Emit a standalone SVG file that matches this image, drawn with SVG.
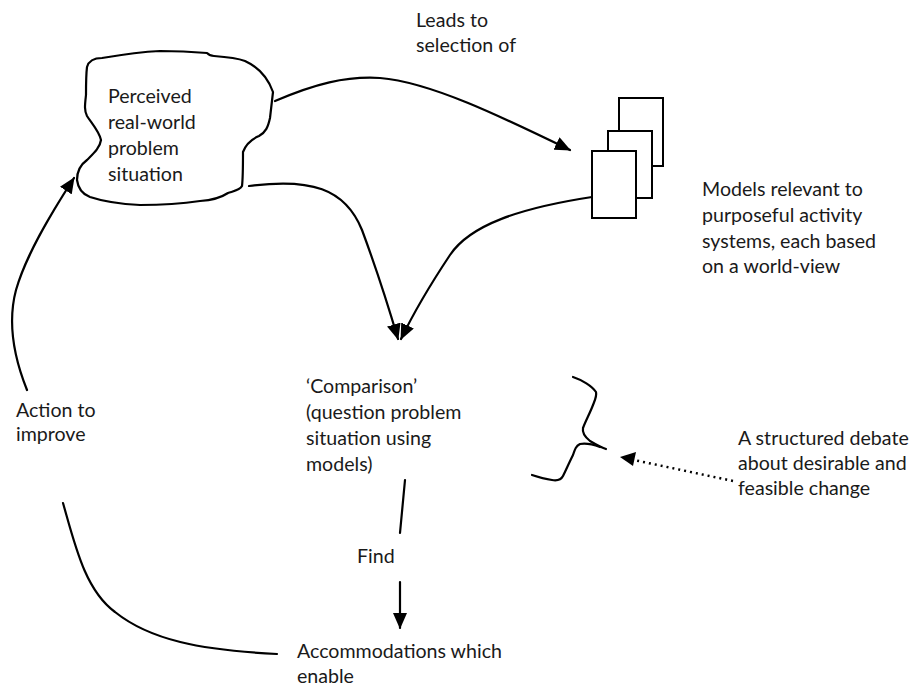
<svg xmlns="http://www.w3.org/2000/svg" width="912" height="687" viewBox="0 0 912 687">
<style>
text { font-family: Lato, "Open Sans", "Liberation Sans", sans-serif; font-size: 19.6px; fill: #1a1a1a; }
.ln { fill: none; stroke: #000; stroke-width: 2.2; stroke-linecap: round; stroke-linejoin: round; }
.box { fill: #fff; stroke: #000; stroke-width: 2; }
.dot { fill: none; stroke: #000; stroke-width: 2.5; stroke-dasharray: 2 4; }
</style>
<defs>
<marker id="ah" markerUnits="userSpaceOnUse" markerWidth="16" markerHeight="14" refX="15" refY="7" orient="auto">
<path d="M0,0 L16,7 L0,14 z" fill="#000"/>
</marker>
</defs>
<rect width="912" height="687" fill="#fff"/>
<g id="problem-situation">
<path class="ln" d="M87,67 C89,60 95,58 102,58 C120,55 140,52 160,51 C180,51 195,52 207,53 C209,55 210,56 214,56 C228,57 237,58 245,61 C258,67 268,78 273,92 C272,101 271,110 270,118 C268,127 266,132 259,136 C252,139 246,144 243,152 C243,165 243,178 242,186 C240,190 234,191 228,193 C222,197 215,200 200,201 C180,204 160,205 140,205 C120,204 105,202 90,197 C82,194 78,188 77,180 C77,172 80,165 87,160 C93,154 100,148 101,140 C99,131 92,124 87,116 C84,110 85,104 86,95 C86,85 86,75 87,67 Z"/>
<text x="108" y="103">Perceived</text>
<text x="108" y="129">real-world</text>
<text x="108" y="155">problem</text>
<text x="108" y="181">situation</text>
</g>
<g id="models">
<rect class="box" x="619" y="98" width="44" height="68"/>
<rect class="box" x="608" y="131" width="44" height="67"/>
<rect class="box" x="592" y="151" width="44" height="67"/>
<text x="702" y="196">Models relevant to</text>
<text x="702" y="222">purposeful activity</text>
<text x="702" y="248">systems, each based</text>
<text x="702" y="273">on a world-view</text>
</g>
<g id="comparison">
<text x="306" y="393">‘Comparison’</text>
<text x="306" y="419">(question problem</text>
<text x="306" y="445">situation using</text>
<text x="306" y="471">models)</text>
</g>
<g id="debate">
<path class="ln" d="M573,377 C582,380 592,386 596,392 C597,396 595,400 593,405 C590,413 586,420 583,428 C582,433 585,437 590,441 C595,444 600,447 606,449"/>
<path class="ln" d="M600,447 C592,444 585,443 580,444 C576,446 575,449 573,455 C569,463 566,470 563,476 C561,480 558,481 552,480 C545,479 538,477 532,475"/>
<text x="738" y="445">A structured debate</text>
<text x="738" y="470">about desirable and</text>
<text x="738" y="495">feasible change</text>
</g>
<g id="accommodations">
<text x="297" y="658">Accommodations which</text>
<text x="297" y="683">enable</text>
</g>
<g id="action">
<text x="16" y="417">Action to</text>
<text x="16" y="441">improve</text>
</g>
<g id="connectors">
<path class="ln" d="M275,101 C315,84 345,76 380,78 C430,82 500,116 570,150" marker-end="url(#ah)"/>
<text x="416" y="27">Leads to</text>
<text x="416" y="52">selection of</text>
<path class="ln" d="M592,197 C520,208 470,225 450,255 C430,285 415,310 401,339" marker-end="url(#ah)"/>
<path class="ln" d="M249,186 C310,178 345,188 362,230 C375,265 388,305 398,339" marker-end="url(#ah)"/>
<path class="ln" d="M405,480 L400,533"/>
<text x="357" y="563">Find</text>
<path class="ln" d="M400,582 L400,628" marker-end="url(#ah)"/>
<path class="ln" d="M27,390 C13,355 8,320 16,290 C26,255 50,215 74,178" marker-end="url(#ah)"/>
<path class="ln" d="M63,503 C75,545 85,590 115,612 C150,640 200,650 277,654"/>
<path class="dot" d="M733,481 L634,460"/>
<path d="M620,457 L636,452 L633,466 Z" fill="#000"/>
</g>
</svg>
